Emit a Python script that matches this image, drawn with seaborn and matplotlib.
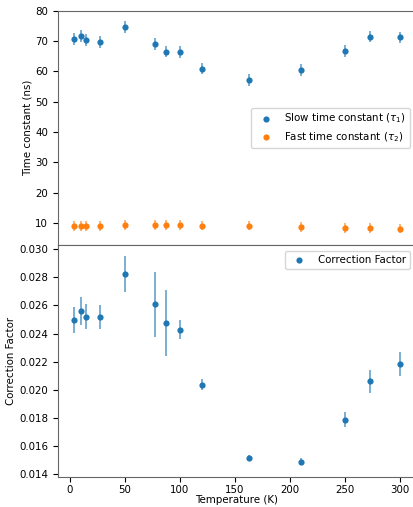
import matplotlib
matplotlib.use("Agg")
import matplotlib.pyplot as plt
import numpy as np
import pandas as pd
import seaborn as sns

# Temperatures (K)
temperature = [4, 10, 15, 27, 50, 77, 87, 100, 120, 163, 210, 250, 273, 300]

# Slow time constant tau_1 (ns) and error
tau_slow = [70.6, 71.7, 70.3, 69.6, 74.6, 69.0, 66.5, 66.3, 60.9, 57.2, 60.4, 66.7, 71.4, 71.2]
tau_slow_err = [1.9, 1.9, 1.9, 1.9, 1.9, 1.9, 1.9, 1.9, 1.9, 1.9, 1.9, 1.9, 1.9, 1.9]

# Fast time constant tau_2 (ns) and error
tau_fast = [8.9, 8.9, 8.9, 8.9, 9.3, 9.2, 9.2, 9.2, 9.1, 9.1, 8.7, 8.35, 8.25, 8.1]
tau_fast_err = [1.6, 1.6, 1.6, 1.6, 1.6, 1.6, 1.6, 1.6, 1.6, 1.6, 1.6, 1.6, 1.6, 1.6]

# Correction factor and error
corr = [0.02497, 0.02560, 0.02520, 0.02518, 0.02825, 0.02607, 0.02476, 0.02429,
        0.02036, 0.01517, 0.01489, 0.01788, 0.02060, 0.02184]
corr_err = [0.00091, 0.0010, 0.0009, 0.00087, 0.0013, 0.00234, 0.00236, 0.00067,
            0.0004, 0.0002, 0.00025, 0.00054, 0.0008, 0.00082]

blue = '#1f77b4'
orange = '#ff7f0e'

plt.rcParams['font.size'] = 7.4
plt.rcParams['axes.edgecolor'] = '0.4'
plt.rcParams['axes.linewidth'] = 0.8

df = pd.DataFrame({"T": temperature, "slow": tau_slow, "fast": tau_fast, "corr": corr})

fig = plt.figure(figsize=(4.14, 5.07), dpi=100)
ax1 = fig.add_axes([0.140, 0.5168, 0.865, 0.4622])
ax2 = fig.add_axes([0.140, 0.0592, 0.865, 0.4576], sharex=ax1)

# Top panel : time constants
ax1.errorbar(temperature, tau_slow, yerr=tau_slow_err, fmt='none', ecolor=blue, elinewidth=1.1, alpha=0.75)
ax1.errorbar(temperature, tau_fast, yerr=tau_fast_err, fmt='none', ecolor=orange, elinewidth=1.1, alpha=0.75)
sns.scatterplot(data=df, x="T", y="slow", ax=ax1, color=blue, s=20, linewidth=0,
                label=r'Slow time constant ($\tau_1$)', zorder=3)
sns.scatterplot(data=df, x="T", y="fast", ax=ax1, color=orange, s=20, linewidth=0,
                label=r'Fast time constant ($\tau_2$)', zorder=3)
ax1.set_ylim(2.7, 80)
ax1.set_ylabel('Time constant (ns)', labelpad=2)
ax1.set_xlabel('')
ax1.tick_params(axis='x', labelbottom=False, length=0)
ax1.legend(loc='center right', bbox_to_anchor=(0.997, 0.5), fontsize=7.4)

# Bottom panel : correction factor
ax2.errorbar(temperature, corr, yerr=corr_err, fmt='none', ecolor=blue, elinewidth=1.1, alpha=0.75)
sns.scatterplot(data=df, x="T", y="corr", ax=ax2, color=blue, s=20, linewidth=0,
                label='Correction Factor', zorder=3)
ax2.set_ylim(0.01381, 0.0303)
ax2.set_xlim(-10.8, 314.8)
ax2.set_yticks([0.014, 0.016, 0.018, 0.020, 0.022, 0.024, 0.026, 0.028, 0.030])
ax2.set_xticks([0, 50, 100, 150, 200, 250, 300])
ax2.tick_params(axis='x', pad=2.5)
ax2.set_ylabel('Correction Factor', labelpad=2)
ax2.set_xlabel('Temperature (K)', labelpad=0)
ax2.legend(loc='upper right', bbox_to_anchor=(0.997, 0.997), fontsize=7.4)

fig.savefig('out.png', dpi=100)
